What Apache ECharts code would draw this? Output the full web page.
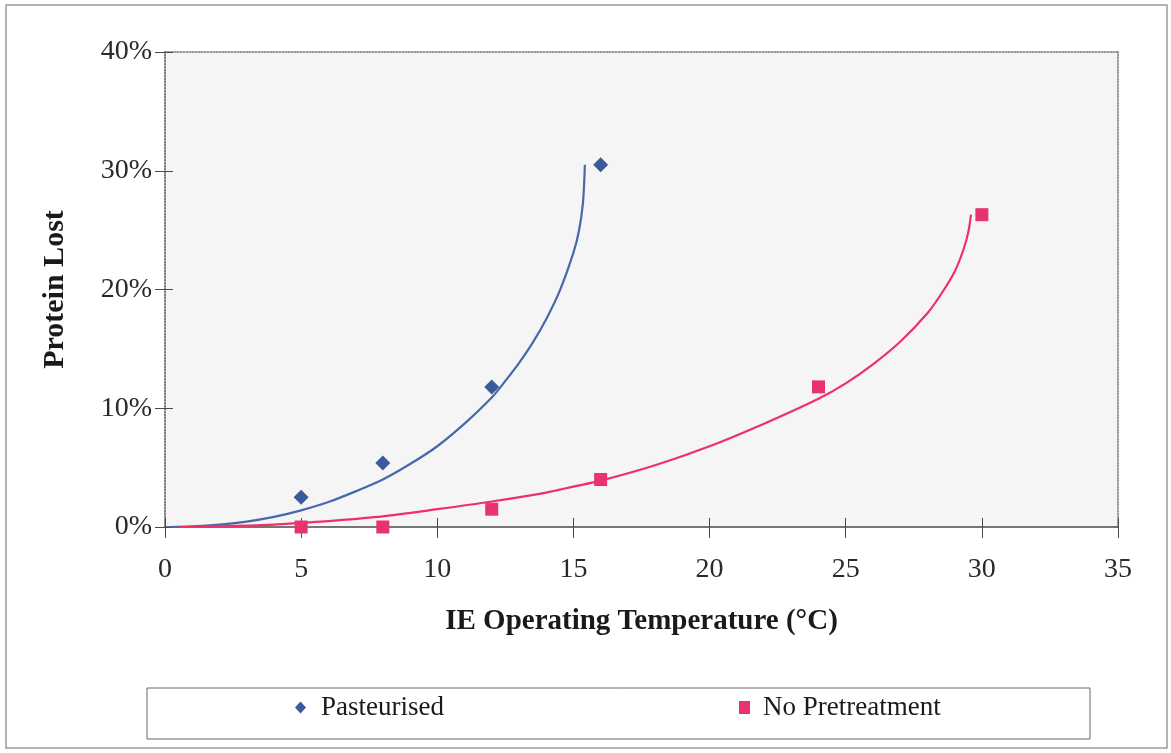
<!DOCTYPE html>
<html>
<head>
<meta charset="utf-8">
<script src="https://cdn.jsdelivr.net/npm/echarts@6/dist/echarts.min.js"></script>
<style>
  html, body { margin: 0; padding: 0; background: #ffffff; }
  #chart { width: 1171px; height: 753px; }
</style>
</head>
<body>
<div id="chart"></div>
<script>
// Measured protein loss (%) against ion-exchange operating temperature (°C)
const pasteurisedTemp = [5, 8, 12, 16];
const pasteurisedLoss = [2.5, 5.4, 11.8, 30.5];

const noPretreatTemp = [5, 8, 12, 16, 24, 30];
const noPretreatLoss = [0.0, 0.0, 1.5, 4.0, 11.8, 26.3];

// Fitted trend curves, traced point by point
const pasteurisedTrendTemp = [0.2, 1, 2, 3, 4, 5, 6, 7, 8, 9, 10, 11, 12, 12.5, 13, 13.5, 14, 14.5, 15, 15.2, 15.35, 15.42];
const pasteurisedTrendLoss = [0.0, 0.05, 0.2, 0.45, 0.85, 1.4, 2.1, 3.0, 4.0, 5.3, 6.8, 8.7, 10.9, 12.3, 13.8, 15.5, 17.5, 19.9, 23.1, 24.9, 27.3, 30.5];

const noPretreatTrendTemp = [0.5, 2, 4, 5, 6, 8, 10, 12, 14, 15, 16, 18, 20, 22, 24, 25, 26, 27, 28, 28.5, 29, 29.3, 29.5, 29.6];
const noPretreatTrendLoss = [0.0, 0.05, 0.2, 0.35, 0.5, 0.9, 1.5, 2.15, 2.9, 3.4, 3.9, 5.2, 6.8, 8.7, 10.8, 12.1, 13.7, 15.6, 18.0, 19.6, 21.5, 23.2, 24.8, 26.3];

const xTicks = { min: 0, max: 35, interval: 5 };
const yTicks = { min: 0, max: 40, interval: 10 };

const zip = (xs, ys) => xs.map((x, i) => [x, ys[i]]);

const serif = '"Liberation Serif", "DejaVu Serif", serif';
const blueMark = '#3a5a9c';
const blueLine = '#4868ac';
const pinkMark = '#e8336e';
const pinkLine = '#ef2f6c';

const chart = echarts.init(document.getElementById('chart'), null, { renderer: 'canvas' });

chart.setOption({
  backgroundColor: '#ffffff',
  animation: false,
  graphic: [
    {
      type: 'rect',
      shape: { x: 6, y: 5, width: 1161, height: 743 },
      style: { fill: 'none', stroke: '#9a9a9a', lineWidth: 1.5 },
      z: -10
    },
    {
      type: 'rect',
      shape: { x: 147, y: 688, width: 943, height: 51 },
      style: { fill: 'none', stroke: '#666666', lineWidth: 1 },
      z: -5
    }
  ],
  grid: {
    left: 165, right: 53, top: 52, bottom: 226,
    show: true, backgroundColor: '#f5f5f5', borderWidth: 0
  },
  legend: [
    {
      data: [{ name: 'Pasteurised', icon: 'diamond' }],
      left: 295, top: 694,
      itemWidth: 11, itemHeight: 12, itemGap: 0,
      padding: 0,
      textStyle: { fontFamily: serif, fontSize: 27, color: '#1a1a1a', padding: [0, 0, 18, 10] }
    },
    {
      data: [{ name: 'No Pretreatment', icon: 'rect' }],
      left: 739, top: 694,
      itemWidth: 11, itemHeight: 13, itemGap: 0,
      padding: 0,
      textStyle: { fontFamily: serif, fontSize: 27, color: '#1a1a1a', padding: [0, 0, 18, 8] }
    }
  ],
  xAxis: [
    {
      type: 'value', position: 'bottom',
      min: xTicks.min, max: xTicks.max, interval: xTicks.interval,
      name: 'IE Operating Temperature (°C)',
      nameLocation: 'middle', nameGap: 80,
      nameTextStyle: { fontFamily: serif, fontSize: 29, fontWeight: 'bold', color: '#1a1a1a' },
      axisLine: { show: true, onZero: false, lineStyle: { color: '#4a4a4a', width: 1.5 } },
      axisTick: { show: true, inside: false, length: 11, lineStyle: { color: '#4a4a4a' } },
      axisLabel: { fontFamily: serif, fontSize: 28, color: '#2a2a2a', margin: 29 },
      splitLine: { show: false }
    },
    {
      type: 'value', position: 'bottom',
      min: xTicks.min, max: xTicks.max, interval: xTicks.interval,
      axisLine: { show: false, onZero: false },
      axisTick: { show: true, inside: true, length: 9, lineStyle: { color: '#4a4a4a' } },
      axisLabel: { show: false },
      splitLine: { show: false }
    },
    {
      type: 'value', position: 'top',
      min: xTicks.min, max: xTicks.max,
      axisLine: { show: true, onZero: false, lineStyle: { color: '#777777', width: 1.5, type: 'dotted' } },
      axisTick: { show: false }, axisLabel: { show: false }, splitLine: { show: false }
    }
  ],
  yAxis: [
    {
      type: 'value', position: 'left',
      min: yTicks.min, max: yTicks.max, interval: yTicks.interval,
      name: 'Protein Lost',
      nameLocation: 'middle', nameGap: 95,
      nameTextStyle: { fontFamily: serif, fontSize: 30, fontWeight: 'bold', color: '#1a1a1a' },
      axisLine: { show: true, onZero: false, lineStyle: { color: '#555555', width: 1.5, type: 'dotted' } },
      axisTick: { show: true, inside: false, length: 10, lineStyle: { color: '#4a4a4a' } },
      axisLabel: {
        fontFamily: serif, fontSize: 28, color: '#2a2a2a', margin: 13,
        formatter: v => v + '%'
      },
      splitLine: { show: false }
    },
    {
      type: 'value', position: 'left',
      min: yTicks.min, max: yTicks.max, interval: yTicks.interval,
      axisLine: { show: false, onZero: false },
      axisTick: { show: true, inside: true, length: 8, lineStyle: { color: '#4a4a4a' } },
      axisLabel: { show: false },
      splitLine: { show: false }
    },
    {
      type: 'value', position: 'right',
      min: yTicks.min, max: yTicks.max,
      axisLine: { show: true, onZero: false, lineStyle: { color: '#777777', width: 1.5, type: 'dotted' } },
      axisTick: { show: false }, axisLabel: { show: false }, splitLine: { show: false }
    }
  ],
  series: [
    {
      name: 'Pasteurised fit', type: 'line',
      data: zip(pasteurisedTrendTemp, pasteurisedTrendLoss),
      smooth: 0.3, showSymbol: false, symbol: 'none',
      lineStyle: { color: blueLine, width: 2.2 }, z: 3
    },
    {
      name: 'No Pretreatment fit', type: 'line',
      data: zip(noPretreatTrendTemp, noPretreatTrendLoss),
      smooth: 0.3, showSymbol: false, symbol: 'none',
      lineStyle: { color: pinkLine, width: 2.2 }, z: 3
    },
    {
      name: 'Pasteurised', type: 'scatter',
      data: zip(pasteurisedTemp, pasteurisedLoss),
      symbol: 'diamond', symbolSize: 15,
      itemStyle: { color: blueMark, opacity: 1 }, z: 5
    },
    {
      name: 'No Pretreatment', type: 'scatter',
      data: zip(noPretreatTemp, noPretreatLoss),
      symbol: 'rect', symbolSize: 13,
      itemStyle: { color: pinkMark, opacity: 1 }, z: 5
    }
  ]
});
</script>
</body>
</html>
